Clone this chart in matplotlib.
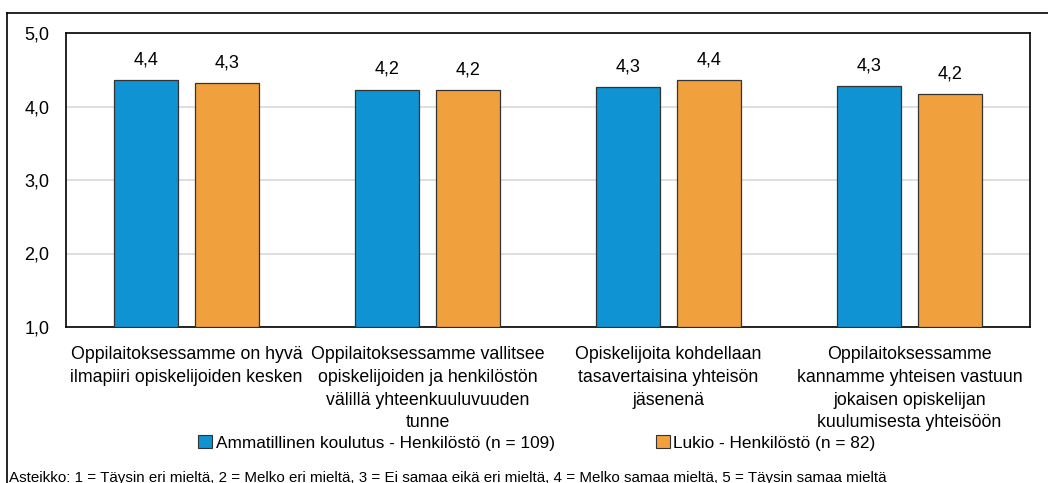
import matplotlib
matplotlib.use("Agg")
import matplotlib.pyplot as plt
import numpy as np
from matplotlib.patches import Patch
from matplotlib.lines import Line2D

plt.rcParams['font.family'] = ['Liberation Sans', 'DejaVu Sans']

categories = [
    "Oppilaitoksessamme on hyvä\nilmapiiri opiskelijoiden kesken",
    "Oppilaitoksessamme vallitsee\nopiskelijoiden ja henkilöstön\nvälillä yhteenkuuluvuuden\ntunne",
    "Opiskelijoita kohdellaan\ntasavertaisina yhteisön\njäsenenä",
    "Oppilaitoksessamme\nkannamme yhteisen vastuun\njokaisen opiskelijan\nkuulumisesta yhteisöön",
]
series_names = ["Ammatillinen koulutus - Henkilöstö (n = 109)", "Lukio - Henkilöstö (n = 82)"]
ammatillinen = [4.36, 4.23, 4.26, 4.28]
lukio = [4.32, 4.22, 4.36, 4.17]
yticks = [1, 2, 3, 4, 5]
footnote = ("Asteikko: 1 = Täysin eri mieltä, 2 = Melko eri mieltä, 3 = Ei samaa eikä eri mieltä, "
            "4 = Melko samaa mieltä, 5 = Täysin samaa mieltä")

colors = ["#0F93D2", "#F0A03C"]

fig = plt.figure(figsize=(10.48, 4.83), dpi=100)
ax = fig.add_axes([66/1048, 1-327/483, (1030-66)/1048, (327-33)/483])

x = np.arange(len(categories))
w = 0.265
off = 0.167
for vals, dx, c in [(ammatillinen, -off, colors[0]), (lukio, off, colors[1])]:
    bars = ax.bar(x + dx, [v - 1 for v in vals], bottom=1, width=w, color=c,
                  edgecolor="#333333", linewidth=0.9, zorder=3)
    for b, v in zip(bars, vals):
        ax.annotate(f"{v:.1f}".replace(".", ","), (b.get_x() + b.get_width()/2, v),
                    xytext=(0, 8.5), textcoords="offset points", ha="center", va="bottom",
                    fontsize=13)

ax.set_xlim(-0.5, len(categories) - 0.5)
ax.set_ylim(1, 5)
ax.set_yticks(yticks)
ax.set_yticklabels([f"{t:.1f}".replace(".", ",") for t in yticks], fontsize=13)
ax.set_xticks(x)
ax.set_xticklabels(categories, fontsize=12.8, linespacing=1.43)
ax.tick_params(axis="x", length=0, pad=14)
ax.tick_params(axis="y", length=0, pad=12)
ax.grid(axis="y", color="#D9D9D9", linewidth=1.2, zorder=0)
ax.set_axisbelow(True)
for s in ax.spines.values():
    s.set_color("black")
    s.set_linewidth(1.2)

handles = [Patch(facecolor=colors[0], edgecolor="#333333", linewidth=0.8),
           Patch(facecolor=colors[1], edgecolor="#333333", linewidth=0.8)]
fig.legend(handles, series_names, loc="center", bbox_to_anchor=(537/1048, 1-443/483),
           ncol=2, frameon=False, fontsize=12.4, handlelength=0.8, handleheight=0.8,
           handletextpad=0.2, columnspacing=5.9, borderpad=0, borderaxespad=0)

fig.text(9/1048, 1-478/483, footnote, fontsize=10.9, ha="left", va="center")

# outer frame lines
fig.add_artist(Line2D([7/1048, 1], [1-13/483, 1-13/483], color="black", linewidth=1.2))
fig.add_artist(Line2D([7/1048, 7/1048], [0, 1-13/483], color="black", linewidth=1.2))

fig.savefig("out.png", dpi=100)
